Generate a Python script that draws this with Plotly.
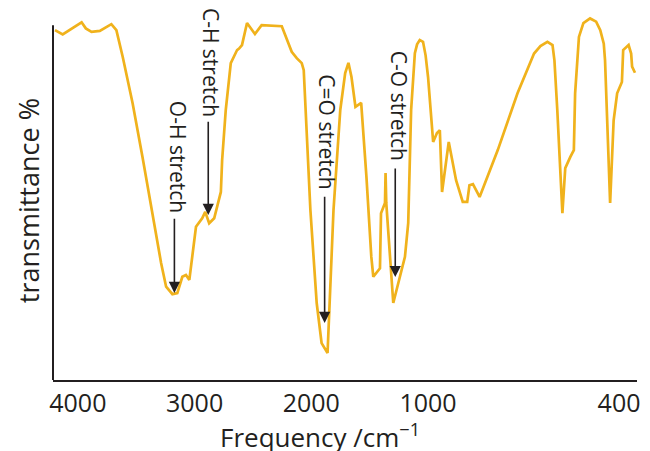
import plotly.graph_objects as go

# IR spectrum (wavenumber cm^-1, transmittance %)
wavenumber = [4196, 4130, 3968, 3932, 3883, 3812, 3713, 3670, 3616, 3531,
              3446, 3361, 3287, 3244, 3190, 3148, 3105, 3074, 3045, 2988,
              2935, 2909, 2875, 2832, 2775, 2764, 2733, 2690, 2636, 2619,
              2594, 2551, 2483, 2426, 2253, 2168, 2125, 2082, 2065, 2008,
              1954, 1912, 1861, 1810, 1752, 1710, 1682, 1656, 1622, 1573,
              1528, 1486, 1469, 1412, 1403, 1369, 1364, 1358, 1298, 1198,
              1170, 1145, 1113, 1094, 1071, 1043, 1021, 1000, 984, 972, 963, 956,
              935, 912, 891, 877, 870, 859, 838, 781, 719, 667,
              647, 625, 609, 603, 594, 578, 569, 553, 542, 538, 526, 512, 491,
              472, 459, 448, 444, 428, 417, 406, 391, 387, 370, 362, 359, 350]
transmittance = [98.6, 97.4, 100.8, 99.1, 98.1, 98.4, 100.3, 98.6, 91.1, 78.0,
                 62.8, 47.0, 33.0, 26.3, 24.2, 24.5, 29.1, 29.6, 28.2, 43.2,
                 45.6, 47.4, 44.2, 45.6, 53.0, 62.0, 76.1, 89.3, 93.0, 93.4,
                 94.4, 100.6, 97.5, 100.0, 99.7, 92.5, 90.7, 89.3, 87.3, 47.9,
                 21.7, 10.4, 7.6, 47.9, 76.1, 86.5, 89.4, 85.4, 77.0, 78.1,
                 57.3, 34.7, 29.1, 31.5, 47.0, 49.9, 58.3, 49.9, 21.7, 34.7,
                 44.2, 76.1, 92.1, 94.6, 95.8, 95.3, 91.5, 85.4, 67.1, 69.6, 70.4, 53.0,
                 67.1, 56.3, 50.2, 50.2, 54.9, 55.2, 51.6, 64.8, 80.8, 92.0,
                 94.1, 95.3, 94.4, 90.1, 76.1, 47.0, 59.7, 62.9, 64.8, 80.8, 96.7, 100.6, 101.9,
                 101.0, 98.6, 94.8, 90.1, 49.9, 73.2, 80.8, 84.0, 93.0, 94.4, 92.0, 88.3, 86.6]

tick_values = [4000, 3000, 2000, 1000, 400]
tick_labels = ["4000", "3000", "2000", "1000", "400"]

# band labels: name, arrow x (cm^-1), arrow tip T, arrow tail T, label x, label T
band_names = ["O-H stretch", "C-H stretch", "C=O stretch", "C-O stretch"]
band_x = [3173, 2883, 1886, 1281]
band_tip = [24.5, 46.5, 16.1, 29.0]
band_tail = [45.9, 73.2, 52.1, 60.0]
label_x = [3148, 2858, 1869, 1247]
label_y = [62.8, 89.6, 69.9, 77.2]

# The reference axis is expanded below 1000 cm^-1 (two linear segments)
K = 2.727


def axis_pos(w):
    return w if w >= 1000 else 1000 - (1000 - w) * K


LINE = "#F0B21C"
INK = "#231F20"
FONT = "Open Sans"

fig = go.Figure()
fig.add_trace(go.Scatter(
    x=[axis_pos(w) for w in wavenumber], y=transmittance,
    mode="lines", line=dict(color=LINE, width=2.7),
    hoverinfo="skip", showlegend=False))

for name, bx, tip, tail, lx, ly in zip(band_names, band_x, band_tip, band_tail, label_x, label_y):
    fig.add_annotation(x=axis_pos(bx), y=tip, ax=axis_pos(bx), ay=tail,
                       xref="x", yref="y", axref="x", ayref="y",
                       text="", showarrow=True, arrowhead=2, arrowsize=1.4,
                       arrowwidth=1.6, arrowcolor=INK)
    fig.add_annotation(x=axis_pos(lx), y=ly, xref="x", yref="y", text=name,
                       showarrow=False, textangle=90,
                       font=dict(family=FONT, size=21, color=INK))

# left axis line (shorter than plot area)
fig.add_shape(type="line", xref="paper", yref="y", x0=0, x1=0, y0=0, y1=100,
              line=dict(color=INK, width=2))

fig.add_annotation(xref="paper", yref="paper", x=0.457, y=-0.151,
                   text="Frequency /cm<sup>\u22121</sup>", showarrow=False,
                   xanchor="center", yanchor="middle",
                   font=dict(family=FONT, size=26, color=INK))
fig.add_annotation(xref="paper", yref="paper", x=-0.0426, y=0.485,
                   text="transmittance %", showarrow=False, textangle=-90,
                   xanchor="center", yanchor="middle",
                   font=dict(family=FONT, size=27, color=INK))

fig.update_xaxes(range=[4213, -790],
                 tickvals=[axis_pos(v) for v in tick_values], ticktext=tick_labels,
                 showgrid=False, zeroline=False, showline=True, linecolor=INK,
                 linewidth=2, ticks="", ticklabelstandoff=0,
                 tickfont=dict(family=FONT, size=25, color=INK))
fig.update_yaxes(range=[0, 104], showgrid=False, zeroline=False,
                 showline=False, showticklabels=False, ticks="")

fig.update_layout(width=650, height=451, plot_bgcolor="white", paper_bgcolor="white",
                  margin=dict(l=53, r=10, t=11, b=71), showlegend=False)

fig.write_html("out.html", config={"displayModeBar": False},
               post_script="document.body.style.margin='0';")
